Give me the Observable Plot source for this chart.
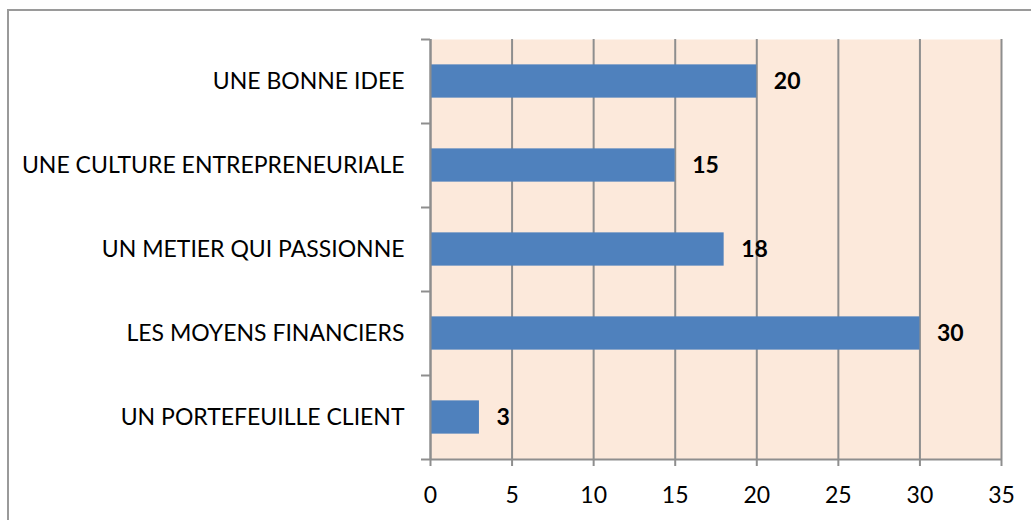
<!DOCTYPE html>
<html>
<head>
<meta charset="utf-8">
<script src="https://cdn.jsdelivr.net/npm/d3@7"></script>
<script src="https://cdn.jsdelivr.net/npm/@observablehq/plot@0.6"></script>
<style>
  html, body { margin: 0; padding: 0; background: #fff; width: 1031px; height: 520px; overflow: hidden; }
  #wrap { position: relative; width: 1031px; height: 520px; }
  #frame { position: absolute; left: 7px; top: 9px; width: 1100px; height: 600px; border-top: 2px solid #9a9a9a; border-left: 2px solid #9a9a9a; box-sizing: border-box; }
  #chart { position: absolute; left: 0; top: 0; }
</style>
</head>
<body>
<div id="wrap"><div id="frame"></div><div id="chart"></div></div>
<script>
// Categories listed top to bottom as in the chart
const categories = [
  "UNE BONNE IDEE",
  "UNE CULTURE ENTREPRENEURIALE",
  "UN METIER QUI PASSIONNE",
  "LES MOYENS FINANCIERS",
  "UN PORTEFEUILLE CLIENT"
];
const values = [20, 15, 18, 30, 3];
const xTicks = [0, 5, 10, 15, 20, 25, 30, 35];

const n = categories.length;
const data = categories.map((c, i) => ({category: c, value: values[i], pos: n - i - 0.5}));
const bandEdges = d3.range(0, n + 1);
const bandCenters = data.map(d => d.pos);
const labelOf = new Map(data.map(d => [d.pos, d.category]));

const font = "Lato, 'Open Sans', sans-serif";
const gray = "#8e8e8e";
const fs = 23;

const plot = Plot.plot({
  width: 1031,
  height: 520,
  marginLeft: 430,
  marginRight: 30,
  marginTop: 39,
  marginBottom: 61,
  style: {fontFamily: font, fontSize: fs + "px", color: "#000", background: "transparent"},
  x: {domain: [0, 35], label: null},
  y: {domain: [0, n], label: null},
  marks: [
    Plot.frame({fill: "#FCE9DB", stroke: null}),
    Plot.gridX(xTicks, {stroke: gray, strokeOpacity: 1, strokeWidth: 2}),
    Plot.rectX(data, {x1: 0, x2: "value", y1: d => d.pos - 0.198, y2: d => d.pos + 0.198, fill: "#4F81BD"}),
    Plot.text(data, {x: "value", y: "pos", text: d => String(d.value), dx: 17, textAnchor: "start", fontWeight: "bold", fontSize: fs, fill: "#000"}),
    Plot.ruleX([0], {stroke: gray, strokeWidth: 2}),
    Plot.ruleY([0], {stroke: gray, strokeWidth: 2}),
    Plot.axisX(xTicks, {label: null, tickSize: 7, tickPadding: 20, stroke: gray, strokeWidth: 2, fontSize: fs, fill: "#000"}),
    Plot.axisY(bandEdges, {label: null, tickSize: 9, stroke: gray, strokeWidth: 2, tickFormat: () => ""}),
    Plot.axisY(bandCenters, {label: null, tickSize: 0, tickPadding: 26, tickFormat: d => labelOf.get(d), fontSize: fs, fill: "#000"})
  ]
});
document.getElementById("chart").appendChild(plot);
</script>
</body>
</html>
